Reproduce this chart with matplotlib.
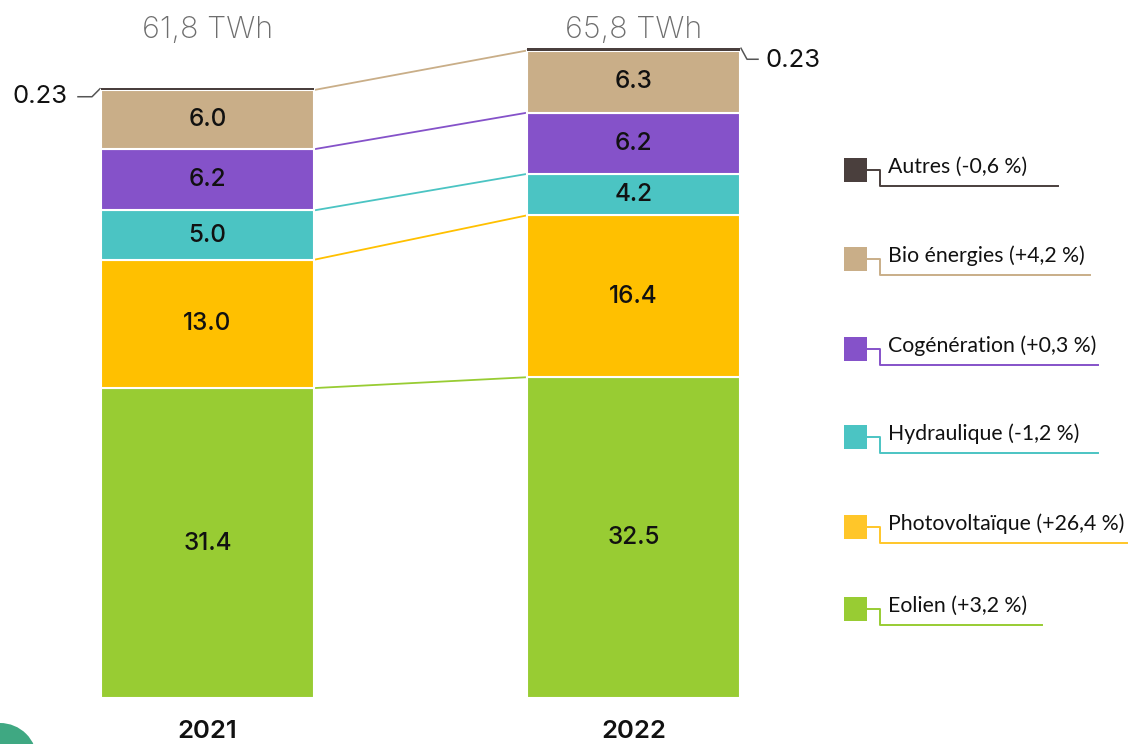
import matplotlib
matplotlib.use("Agg")
import matplotlib.pyplot as plt
from matplotlib.patches import Rectangle, Circle
from matplotlib.lines import Line2D

# ---------------- data ----------------
years = ["2021", "2022"]
eolien = [31.4, 32.5]
photovoltaique = [13.0, 16.4]
hydraulique = [5.0, 4.2]
cogeneration = [6.2, 6.2]
bio_energies = [6.0, 6.3]
autres = [0.23, 0.23]
total_labels = ["61,8 TWh", "65,8 TWh"]

series_names = ["Eolien", "Photovoltaïque", "Hydraulique", "Cogénération", "Bio énergies", "Autres"]
series_values = [eolien, photovoltaique, hydraulique, cogeneration, bio_energies, autres]
series_colors = ["#98CC33", "#FFC000", "#4BC4C3", "#8552C9", "#C9AE88", "#4A3F3D"]
legend_colors = ["#98CC33", "#FFC629", "#4BC4C3", "#8552C9", "#C9AE88", "#4A3F3D"]
legend_changes = ["(+3,2 %)", "(+26,4 %)", "(-1,2 %)", "(+0,3 %)", "(+4,2 %)", "(-0,6 %)"]

# ---------------- figure ----------------
W, H = 1130, 744
fig = plt.figure(figsize=(W / 100, H / 100), dpi=100)
ax = fig.add_axes([0, 0, 1, 1])
ax.axis("off")

PXX = 1 / 426.0   # data units per pixel (x)
PXY = 1 / 9.87    # data units per pixel (y)
ax.set_xlim(-207.5 * PXX, (W - 207.5) * PXX)
ax.set_ylim(-46 * PXY, (H - 46) * PXY)

NUMFONT = "Inter"

x = [0, 1]
width = 0.5
bottoms = [0.0, 0.0]
for name, vals, col in zip(series_names, series_values, series_colors):
    lw = 0 if name == "Autres" else 1.5
    ax.bar(x, vals, width=width, bottom=bottoms, color=col, edgecolor="white",
           linewidth=lw, zorder=3)
    new_bottoms = [b + v for b, v in zip(bottoms, vals)]
    if name != "Autres":
        for xi, b, v in zip(x, bottoms, vals):
            ax.text(xi, b + v / 2, f"{v:.1f}", ha="center", va="center",
                    fontsize=17.5, family=NUMFONT, fontweight="medium",
                    color="#111111", zorder=5)
        # connector between the two bars
        ax.plot([x[0] + width / 2, x[1] - width / 2], new_bottoms, color=col,
                lw=1.3, zorder=2, solid_capstyle="butt")
    bottoms = new_bottoms

totals = bottoms

# total labels on top
for xi, lab in zip(x, total_labels):
    ax.text(xi, 1 - 30 / H, lab, transform=ax.get_xaxis_transform(), ha="center",
            va="center", fontsize=22, family=NUMFONT, fontweight="light",
            color="#6E6E6E")

# year labels
for xi, yr in zip(x, years):
    ax.text(xi, 1 - 732 / H, yr, transform=ax.get_xaxis_transform(), ha="center",
            va="center", fontsize=18.5, family=NUMFONT, fontweight="semibold",
            color="#111111")

# Autres value callouts
lab0 = f"{autres[0]:.2f}"
lab1 = f"{autres[1]:.2f}"
# 2021: left of the bar
x0 = x[0] - width / 2
t0 = totals[0]
ax.plot([x0 - 1 * PXX, x0 - 9 * PXX, x0 - 23 * PXX],
        [t0 - 1 * PXY, t0 - 9 * PXY, t0 - 9 * PXY], color="#555555", lw=1.1, zorder=2)
ax.text(x0 - 33 * PXX, t0 - 9 * PXY, lab0, ha="right", va="center", fontsize=18.5,
        family=NUMFONT, color="#111111")
# 2022: right of the bar
x1 = x[1] + width / 2
t1 = totals[1]
ax.plot([x1 + 1 * PXX, x1 + 7 * PXX, x1 + 18 * PXX],
        [t1, t1 - 11 * PXY, t1 - 11 * PXY], color="#555555", lw=1.1, zorder=2)
ax.text(x1 + 26 * PXX, t1 - 12 * PXY, lab1, ha="left", va="center", fontsize=18.5,
        family=NUMFONT, color="#111111")

# ---------------- legend (custom, top to bottom) ----------------
def fx(px):
    return px / W

def fy(py):
    return 1 - py / H

leg_y = [170, 259, 349, 437, 527, 609]
leg_end = [1058, 1090, 1098, 1098, 1127, 1042]
order = list(range(len(series_names)))[::-1]  # Autres first
for yc, xe, i in zip(leg_y, leg_end, order):
    col = legend_colors[i]
    fig.add_artist(Rectangle((fx(844), fy(yc + 12)), 23 / W, 24 / H,
                             transform=fig.transFigure, facecolor=col,
                             edgecolor="none"))
    fig.add_artist(Line2D([fx(867), fx(880), fx(880), fx(xe)],
                          [fy(yc), fy(yc), fy(yc + 16), fy(yc + 16)],
                          transform=fig.transFigure, color=col, lw=1.4))
    fig.text(fx(888), fy(yc + 3), f"{series_names[i]} {legend_changes[i]}",
             ha="left", va="baseline", fontsize=15.3, family="Lato", color="#111111")

# decorative green circle at the bottom-left corner (pixel-based, in inches)
fig.add_artist(Circle((0, (H - 760) / 100), 0.37, transform=fig.dpi_scale_trans,
                      facecolor="#3FA882", edgecolor="none"))

fig.savefig("out.png", dpi=100)
